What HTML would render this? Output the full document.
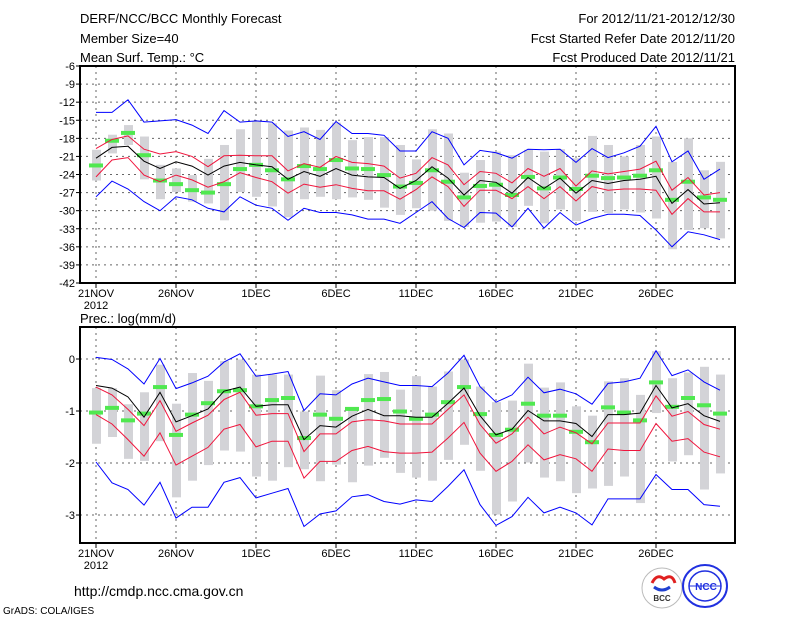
<!DOCTYPE html>
<html><head><meta charset="utf-8"><style>
html,body{margin:0;padding:0;background:#fff;}
svg{display:block;font-family:"Liberation Sans",sans-serif;}
</style></head><body>
<svg id="c" width="800" height="618" viewBox="0 0 800 618" xmlns="http://www.w3.org/2000/svg">
<rect width="800" height="618" fill="#fff"/>
<g font-size="13" fill="#000">
<text x="80" y="23">DERF/NCC/BCC Monthly Forecast</text>
<text x="80" y="43">Member Size=40</text>
<text x="80" y="62">Mean Surf. Temp.: °C</text>
<text x="735" y="23" text-anchor="end">For 2012/11/21-2012/12/30</text>
<text x="735" y="43" text-anchor="end">Fcst Started Refer Date 2012/11/20</text>
<text x="735" y="62" text-anchor="end">Fcst Produced Date 2012/11/21</text>
<text x="80" y="323">Prec.: log(mm/d)</text>
<text x="74" y="596" font-size="14">http://cmdp.ncc.cma.gov.cn</text>
<text x="3" y="614" font-size="10">GrADS: COLA/IGES</text>
</g>
<g>
<circle cx="662" cy="588" r="20" fill="#fff" stroke="#bbb" stroke-width="1"/>
<path d="M652 583 q5 -10 12 -4 q8 -6 11 4" fill="none" stroke="#e02020" stroke-width="3"/>
<path d="M654 587 q8 6 16 0" fill="none" stroke="#2040d0" stroke-width="3"/>
<text x="662" y="601" font-size="8" text-anchor="middle" font-weight="bold" fill="#333">BCC</text>
</g>
<g>
<ellipse cx="705" cy="586" rx="22" ry="21" fill="#fff" stroke="#2030e0" stroke-width="2"/>
<ellipse cx="705" cy="586" rx="16" ry="15" fill="none" stroke="#2030e0" stroke-width="1.5"/>
<line x1="689" y1="586" x2="721" y2="586" stroke="#2030e0"/>
<text x="706" y="590" font-size="10" text-anchor="middle" font-weight="bold" fill="#2030e0">NCC</text>
</g>
<g id="top"></g>
<g id="bot"></g>
</svg>
<script>
const dateLabels=["21NOV","26NOV","1DEC","6DEC","11DEC","16DEC","21DEC","26DEC"];
const tTicks=[-6,-9,-12,-15,-18,-21,-24,-27,-30,-33,-36,-39,-42];
const pTicks=[0,-1,-2,-3];
const tBlueHi=[-13.7,-13.7,-11.6,-15.3,-15.1,-14.9,-15.8,-17.2,-13.4,-15.3,-15.1,-15.3,-17.7,-16.9,-18.2,-15.2,-17.2,-17.2,-17.5,-20.1,-20.1,-16.9,-18.0,-22.4,-20.0,-20.4,-21.3,-19.8,-19.9,-19.8,-22.0,-19.7,-21.2,-20.4,-19.3,-16.0,-21.9,-20.1,-24.8,-23.1];
const tRedHi=[-19.7,-18.2,-17.6,-19.8,-20.6,-20.2,-21.0,-22.7,-20.9,-20.8,-20.9,-20.9,-23.4,-22.2,-22.8,-21.0,-22.0,-22.2,-22.6,-24.6,-23.8,-21.2,-22.4,-25.7,-23.5,-23.8,-25.4,-23.0,-24.3,-23.0,-25.9,-23.4,-23.9,-23.5,-23.1,-21.8,-26.6,-24.5,-27.4,-27.0];
const tMean=[-21.3,-19.5,-19.3,-21.8,-23.0,-21.9,-22.6,-24.1,-22.6,-22.0,-22.4,-22.7,-24.8,-23.5,-24.3,-23.0,-24.1,-24.4,-24.5,-26.3,-25.0,-22.7,-24.6,-27.4,-25.0,-25.3,-27.1,-24.5,-26.3,-24.6,-27.1,-25.0,-25.5,-25.0,-24.8,-24.3,-28.8,-26.5,-28.9,-28.7];
const tRedLo=[-24.4,-21.6,-21.2,-24.1,-25.2,-24.1,-24.9,-26.1,-25.2,-23.7,-24.5,-25.2,-27.1,-25.6,-26.1,-25.7,-26.3,-26.7,-26.7,-28.1,-26.5,-24.4,-26.0,-29.3,-26.6,-26.6,-28.0,-26.0,-28.0,-26.0,-28.4,-26.0,-26.6,-26.4,-26.4,-26.6,-30.6,-28.0,-30.2,-30.2];
const tBlueLo=[-27.7,-25.1,-26.4,-28.5,-30.0,-27.7,-28.2,-29.6,-30.2,-27.7,-29.1,-29.6,-31.6,-29.6,-30.3,-30.3,-30.7,-31.4,-31.4,-32.1,-30.3,-28.5,-31.3,-32.8,-30.3,-30.4,-32.7,-29.6,-32.9,-30.3,-32.4,-31.3,-30.6,-30.6,-30.8,-33.2,-36.0,-33.5,-34.0,-34.8];
const tObs=[-22.5,-18.4,-17.1,-20.8,-25.0,-25.6,-26.6,-27.0,-25.6,-23.1,-22.4,-23.3,-24.8,-22.6,-23.1,-21.6,-23.0,-23.1,-24.1,-26.0,-25.4,-23.3,-25.2,-27.8,-25.9,-25.7,-27.4,-24.4,-26.3,-24.5,-26.4,-24.2,-24.6,-24.5,-24.2,-23.3,-28.2,-25.2,-27.8,-28.2];
const tBarHi=[-19.9,-17.4,-15.8,-17.7,-22.4,-23.0,-24.1,-21.4,-19.1,-16.5,-15.2,-15.5,-16.7,-16.2,-16.6,-15.4,-18.3,-17.8,-17.8,-19.1,-21.5,-16.5,-17.2,-23.7,-21.6,-20.2,-20.8,-19.9,-20.2,-19.8,-21.3,-17.6,-19.1,-21.0,-19.1,-17.7,-21.9,-18.0,-23.3,-21.9];
const tBarLo=[-25.0,-20.5,-19.1,-24.8,-28.1,-26.9,-28.5,-28.8,-31.6,-26.9,-27.7,-29.3,-31.1,-28.1,-27.7,-28.1,-27.8,-28.2,-29.5,-30.7,-29.6,-30.0,-31.7,-32.7,-32.0,-31.8,-32.7,-29.2,-32.1,-29.8,-31.7,-30.2,-30.4,-29.8,-30.3,-31.3,-36.4,-33.2,-32.9,-34.6];
const pBlueHi=[0.03,-0.01,-0.19,-0.48,0.01,-0.57,-0.46,-0.33,-0.06,0.10,-0.33,-0.29,-0.24,-0.99,-0.67,-0.69,-0.48,-0.37,-0.44,-0.51,-0.51,-0.53,-0.27,0.07,-0.53,-0.83,-0.69,-0.35,-0.65,-0.58,-0.67,-0.87,-0.47,-0.44,-0.37,0.16,-0.32,-0.21,-0.44,-0.60];
const pRedHi=[-0.54,-0.69,-0.97,-1.28,-0.80,-1.39,-1.23,-1.08,-0.78,-0.64,-1.08,-1.05,-1.05,-1.78,-1.44,-1.44,-1.21,-1.17,-1.19,-1.25,-1.25,-1.25,-0.97,-0.69,-1.26,-1.62,-1.44,-1.12,-1.44,-1.31,-1.42,-1.63,-1.23,-1.23,-1.23,-0.71,-1.10,-1.01,-1.26,-1.35];
const pMean=[-0.51,-0.56,-0.73,-1.12,-0.64,-1.21,-1.09,-0.96,-0.62,-0.54,-0.91,-0.88,-0.88,-1.55,-1.28,-1.31,-1.10,-0.97,-1.09,-1.09,-1.12,-1.12,-0.85,-0.56,-1.09,-1.46,-1.35,-0.99,-1.19,-1.19,-1.24,-1.49,-1.07,-1.07,-1.04,-0.51,-0.94,-0.86,-1.09,-1.20];
const pRedLo=[-1.07,-1.25,-1.55,-1.87,-1.42,-2.04,-1.87,-1.70,-1.35,-1.26,-1.69,-1.58,-1.58,-2.29,-1.97,-1.97,-1.76,-1.68,-1.78,-1.81,-1.81,-1.79,-1.52,-1.22,-1.81,-2.16,-1.97,-1.65,-1.94,-1.84,-1.92,-2.16,-1.73,-1.76,-1.76,-1.24,-1.58,-1.53,-1.79,-1.88];
const pBlueLo=[-1.98,-2.38,-2.51,-2.81,-2.37,-3.06,-2.85,-2.85,-2.37,-2.28,-2.67,-2.58,-2.49,-3.22,-2.98,-2.92,-2.65,-2.61,-2.74,-2.79,-2.71,-2.74,-2.45,-2.13,-2.80,-3.20,-3.03,-2.66,-2.96,-2.85,-2.96,-3.19,-2.69,-2.69,-2.69,-2.22,-2.51,-2.51,-2.80,-2.83];
const pObs=[-1.03,-0.94,-1.18,-1.05,-0.54,-1.46,-1.07,-0.85,-0.62,-0.60,-0.91,-0.79,-0.75,-1.52,-1.07,-1.15,-0.96,-0.79,-0.77,-1.01,-1.15,-1.07,-0.83,-0.54,-1.06,-1.46,-1.36,-0.86,-1.09,-1.09,-1.40,-1.60,-0.93,-1.03,-1.18,-0.45,-0.92,-0.75,-0.89,-1.05];
const pBarHi=[-0.56,-0.56,-0.87,-0.64,-0.11,-0.86,-0.27,-0.42,-0.04,-0.01,-0.30,-0.30,-0.30,-1.01,-0.32,-0.60,-0.94,-0.29,-0.25,-0.59,-0.33,-0.53,-0.24,-0.01,-0.53,-0.83,-0.80,-0.09,-0.55,-0.45,-0.91,-1.09,-0.43,-0.37,-0.69,0.15,-0.37,-0.26,-0.15,-0.30];
const pBarLo=[-1.63,-1.50,-1.92,-1.96,-1.58,-2.66,-2.34,-2.04,-1.76,-1.78,-2.26,-2.34,-2.08,-2.12,-2.35,-2.03,-2.37,-2.05,-1.90,-2.19,-2.28,-2.34,-1.94,-1.65,-2.15,-2.99,-2.74,-1.99,-2.28,-2.35,-2.58,-2.49,-2.44,-2.26,-2.77,-1.04,-1.97,-1.85,-2.51,-2.20];

const NS="http://www.w3.org/2000/svg";
const X0=80,X1=735;
function xs(i){return 96+16*i;}
function mk(p,tag,at){const e=document.createElementNS(NS,tag);for(const k in at)e.setAttribute(k,at[k]);p.appendChild(e);return e;}

function panel(g,top,bot,vmax,vmin,ticks,fmt,series,barHi,barLo,obs,prefix){
  const ys=v=>top+(vmax-v)*(bot-top)/(vmax-vmin);
  // grid
  ticks.forEach(t=>{
    const l=mk(g,'line',{x1:X0,x2:X1,y1:ys(t),y2:ys(t),stroke:'#666','stroke-dasharray':'2,4','stroke-width':1});
    
    
    const tk=mk(g,'line',{x1:X0-4,x2:X0,y1:ys(t),y2:ys(t),stroke:'#000'});
    
    
    const tx=mk(g,'text',{x:X0-5,y:ys(t)+4,'text-anchor':'end','font-size':11});
    
    
    tx.textContent=fmt(t);
  });
  dateLabels.forEach((d,k)=>{
    const x=xs(k*5);
    const l=mk(g,'line',{x1:x,x2:x,y1:top,y2:bot,stroke:'#666','stroke-dasharray':'2,4'});
    
    
    const tk=mk(g,'line',{x1:x,x2:x,y1:bot,y2:bot+5,stroke:'#000'});
    
    
    const tx=mk(g,'text',{x:x,y:bot+14,'text-anchor':'middle','font-size':11});
    
    
    tx.textContent=d;
  });
  const yr=mk(g,'text',{x:xs(0),y:bot+26,'text-anchor':'middle','font-size':11});
  
  
  yr.textContent='2012';
  // bars
  barHi.forEach((h,i)=>{
    const y1=ys(h),y2=ys(barLo[i]);
    const r=mk(g,'rect',{x:xs(i)-4,y:y1,width:9,height:y2-y1,fill:'#d3d3d7'});
    
    
  });
  obs.forEach((v,i)=>{
    const r=mk(g,'rect',{x:xs(i)-7,y:ys(v)-2,width:14,height:4,fill:'#50e850'});
    
    
  });
  series.forEach(s=>{
    const pts=s.d.map((v,i)=>xs(i)+','+ys(v).toFixed(1)).join(' ');
    const p=mk(g,'polyline',{points:pts,fill:'none',stroke:s.c,'stroke-width':1});
    
    
  });
  const fr=mk(g,'rect',{x:X0,y:top,width:X1-X0,height:bot-top,fill:'none',stroke:'#000','stroke-width':2});
  
  
}
panel(document.getElementById('top'),66,283,-6,-42,tTicks,t=>String(t).replace('-','−').replace('−','-'),
 [{d:tBlueHi,c:'#0000ff',n:'max-line'},{d:tRedHi,c:'#f0143c',n:'upper-line'},{d:tMean,c:'#000',n:'mean-line'},{d:tRedLo,c:'#f0143c',n:'lower-line'},{d:tBlueLo,c:'#0000ff',n:'min-line'}],
 tBarHi,tBarLo,tObs,'temp');
panel(document.getElementById('bot'),327,543,0.615,-3.538,pTicks,t=>String(t),
 [{d:pBlueHi,c:'#0000ff',n:'max-line'},{d:pRedHi,c:'#f0143c',n:'upper-line'},{d:pMean,c:'#000',n:'mean-line'},{d:pRedLo,c:'#f0143c',n:'lower-line'},{d:pBlueLo,c:'#0000ff',n:'min-line'}],
 pBarHi,pBarLo,pObs,'prec');
</script>
</body></html>
